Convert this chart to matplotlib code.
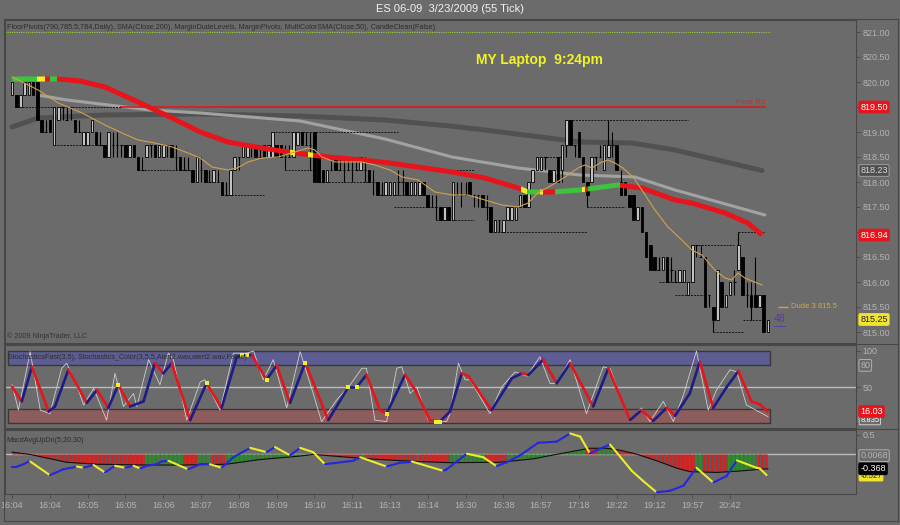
import numpy as np
import matplotlib.pyplot as plt
from matplotlib.patches import Rectangle
from matplotlib.lines import Line2D

plt.rcParams['font.family'] = ['Liberation Sans', 'DejaVu Sans']
plt.rcParams['hatch.linewidth'] = 0.9

# ---- price bars, in ticks above 815.00 (1 tick = 0.25)
BASE = 815.0
TICK = 0.25
opens = [19, 19, 18, 19, 19, 20, 20, 17, 16, 17,
         15, 17, 18, 17, 18, 17, 16, 15, 15, 16,
         16, 15, 15, 14, 15, 15, 15, 15, 14, 15,
         14, 13, 14, 15, 15, 14, 14, 15, 15, 14,
         14, 13, 13, 13, 12, 13, 13, 12, 12, 12,
         12, 11, 11, 13, 14, 14, 14, 15, 15, 14,
         15, 14, 14, 15, 15, 14, 14, 14, 15, 16,
         15, 15, 16, 14, 13, 12, 13, 14, 13, 13,
         13, 13, 13, 13, 13, 13, 12, 12, 11, 11,
         11, 11, 12, 12, 12, 11, 11, 11, 12, 11,
         10, 10, 10, 9, 10, 9, 11, 11, 11, 12,
         11, 11, 11, 10, 10, 8, 9, 8, 9, 9,
         9, 10, 11, 10, 12, 13, 13, 14, 13, 12,
         14, 13, 15, 17, 15, 16, 14, 12, 12, 14,
         14, 13, 14, 15, 15, 12, 12, 11, 11, 9,
         10, 8, 7, 6, 5, 5, 6, 5, 4, 4,
         4, 3, 4, 7, 6, 6, 3, 2, 1, 4,
         2, 3, 4, 5, 6, 3, 3, 3, 2, 3,
         0]
closes = [20, 18, 19, 20, 20, 19, 17, 16, 16, 16,
          18, 18, 18, 17, 18, 16, 16, 16, 16, 17,
          15, 15, 14, 16, 15, 15, 15, 14, 15, 14,
          13, 13, 15, 15, 14, 15, 15, 15, 14, 14,
          13, 13, 13, 12, 14, 13, 12, 12, 13, 12,
          11, 11, 13, 14, 14, 15, 15, 15, 14, 14,
          14, 15, 16, 14, 14, 14, 14, 16, 16, 15,
          15, 15, 12, 12, 12, 13, 13, 13, 13, 13,
          13, 13, 13, 14, 13, 12, 12, 11, 11, 12,
          12, 12, 12, 12, 11, 12, 12, 12, 11, 10,
          10, 10, 9, 10, 9, 12, 11, 11, 11, 11,
          11, 11, 10, 10, 8, 9, 9, 9, 10, 10,
          10, 11, 10, 12, 13, 14, 14, 14, 12, 13,
          12, 15, 17, 15, 15, 14, 12, 11, 14, 14,
          14, 15, 15, 15, 13, 11, 11, 10, 9, 10,
          8, 6, 5, 5, 5, 6, 4, 5, 4, 5,
          5, 4, 7, 7, 6, 2, 3, 1, 5, 2,
          3, 4, 4, 7, 3, 3, 2, 2, 3, 0,
          1]
highs = [20, 19, 19, 20, 20, 20, 20, 17, 17, 17,
         18, 18, 18, 18, 18, 17, 17, 16, 16, 17,
         16, 16, 15, 16, 16, 16, 15, 15, 15, 15,
         14, 14, 15, 15, 15, 15, 15, 15, 15, 15,
         14, 14, 14, 13, 14, 14, 13, 13, 13, 13,
         12, 12, 13, 14, 14, 15, 15, 15, 15, 15,
         15, 15, 16, 15, 15, 15, 15, 16, 16, 16,
         16, 16, 16, 14, 13, 13, 14, 14, 14, 14,
         14, 14, 14, 14, 14, 13, 13, 12, 12, 12,
         12, 12, 13, 13, 12, 12, 12, 12, 12, 11,
         11, 11, 10, 10, 10, 12, 12, 12, 12, 12,
         11, 11, 11, 11, 10, 9, 9, 9, 10, 10,
         10, 11, 11, 12, 13, 14, 14, 14, 13, 13,
         14, 15, 17, 17, 15, 16, 14, 12, 14, 14,
         15, 15, 17, 16, 15, 13, 12, 11, 11, 10,
         10, 8, 7, 6, 6, 6, 6, 6, 5, 5,
         5, 4, 7, 7, 7, 6, 3, 2, 5, 4,
         3, 4, 5, 8, 6, 4, 4, 6, 3, 3,
         1]
lows = [19, 18, 18, 19, 19, 19, 17, 16, 16, 16,
        15, 17, 17, 17, 17, 16, 16, 15, 15, 16,
        15, 15, 14, 14, 14, 14, 14, 14, 14, 14,
        13, 13, 14, 14, 14, 14, 14, 14, 14, 13,
        13, 13, 13, 12, 12, 12, 12, 12, 12, 12,
        11, 11, 11, 13, 13, 14, 14, 14, 14, 14,
        14, 14, 14, 14, 14, 13, 14, 14, 15, 15,
        15, 13, 12, 12, 12, 12, 13, 13, 13, 12,
        13, 12, 13, 13, 12, 12, 11, 11, 11, 11,
        11, 11, 11, 11, 11, 11, 11, 11, 11, 10,
        10, 9, 9, 9, 9, 9, 11, 10, 11, 11,
        10, 10, 10, 9, 8, 8, 8, 8, 9, 9,
        9, 10, 10, 10, 12, 13, 13, 13, 12, 12,
        12, 12, 14, 15, 14, 14, 12, 10, 12, 13,
        14, 13, 14, 14, 13, 11, 11, 10, 9, 9,
        8, 6, 5, 5, 5, 5, 4, 4, 4, 4,
        4, 3, 4, 6, 6, 2, 2, 0, 1, 2,
        2, 3, 3, 5, 3, 2, 1, 2, 2, 0,
        0]

# MarginDudeLevels: level (ticks), first bar, last bar
dude_level = [18, 15, 13, 16, 13, 11, 12, 11, 10, 9, 13, 8, 14, 17, 10, 4, 3, 7, 0, 8, 1]
dude_start = [1, 10, 30, 62, 65, 50, 73, 87, 91, 101, 105, 114, 125, 132, 137, 154, 158, 162, 167, 173, 174]
dude_end = [26, 22, 42, 92, 73, 60, 87, 98, 101, 110, 110, 137, 131, 161, 146, 162, 165, 172, 174, 179, 179]

# moving averages (bar index, price)
sma200_x = [0, 6.2, 22.1, 44.8, 68.6, 88.8, 104.3, 112.6, 135.2, 147.6, 157.9, 178.6]
sma200_y = [819.10, 819.28, 819.34, 819.36, 819.32, 819.24, 819.12, 819.04, 818.80, 818.78, 818.64, 818.23]
pivma_x = [6.0, 13.1, 32.9, 44.8, 68.6, 88.8, 104.8, 120.5, 135.2, 148.3, 157.9, 179.3]
pivma_y = [819.74, 819.64, 819.44, 819.38, 819.22, 818.86, 818.50, 818.28, 818.14, 818.10, 817.84, 817.34]
sma50_x = [0, 5.5, 11.0, 16.2, 22.1, 30.0, 38.1, 44.8, 51.4, 59.5, 67.4, 75.2, 83.3, 90.0,
           104.8, 112.6, 120.5, 122.9, 128.6, 135.2, 144.3, 150.0, 157.9, 161.9, 169.8,
           175.2, 178.1, 178.6]
sma50_y = [820.06, 820.06, 820.06, 820.02, 819.90, 819.60, 819.28, 819.00, 818.80, 818.68,
           818.58, 818.50, 818.44, 818.38, 818.20, 818.08, 817.88, 817.80, 817.80, 817.84,
           817.94, 817.88, 817.64, 817.58, 817.38, 817.18, 816.98, 816.94]
sma50_runs = [(-1, 6.0, 'g'), (6.0, 7.9, 'y'), (7.9, 9.0, 'r'), (9.0, 10.7, 'g'),
              (10.7, 66.2, 'r'), (66.2, 67.4, 'y'), (67.4, 70.5, 'r'), (70.5, 71.7, 'y'),
              (71.7, 121.2, 'r'), (121.2, 122.6, 'y'), (122.6, 125.7, 'g'), (125.7, 126.4, 'y'),
              (126.4, 129.3, 'r'), (129.3, 135.7, 'g'), (135.7, 136.4, 'y'), (136.4, 137.1, 'r'),
              (137.1, 144.8, 'g'), (144.8, 180, 'r')]
fast_x = [0, 6.2, 11.0, 16.7, 22.1, 26.2, 30.0, 34.0, 38.1, 41.9, 44.8, 47.6, 51.4, 53.6,
          56.2, 59.5, 63.3, 67.4, 70.5, 72.1, 73.8, 76.9, 83.3, 86.4, 90.0, 92.9, 96.7,
          100.7, 104.8, 108.6, 112.6, 116.7, 120.5, 122.9, 125.2, 128.6, 131.7, 134.8,
          136.4, 138.1, 140.0, 141.9, 143.6, 145.5, 147.9, 150.0, 153.1, 156.2, 159.5,
          161.9, 164.3, 167.4, 169.8, 171.4, 172.9, 174.5, 178.6]
fast_y = [820.10, 819.84, 819.58, 819.38, 819.14, 818.98, 818.84, 818.78, 818.70, 818.58,
          818.48, 818.30, 818.24, 818.28, 818.40, 818.48, 818.50, 818.60, 818.68, 818.64,
          818.50, 818.40, 818.40, 818.34, 818.24, 818.10, 818.04, 817.80, 817.74, 817.74,
          817.64, 817.54, 817.50, 817.58, 817.78, 817.94, 818.10, 818.28, 818.34, 818.28,
          818.38, 818.44, 818.38, 818.28, 818.10, 817.84, 817.44, 817.10, 816.84, 816.64,
          816.54, 816.24, 816.08, 816.04, 816.18, 816.08, 815.94]

# stochastics (bar index, value)
stoch_d_x = [0, 2.3, 4.7, 8.7, 10.2, 13.4, 17.8, 20.2, 22.9, 25.3, 28.1, 31.3, 34.0, 36.0,
             38.0, 42.4, 46.3, 49.9, 53.5, 54.7, 57.1, 60.6, 63.0, 66.2, 69.8, 75.3, 80.1,
             82.1, 84.4, 87.6, 89.2, 93.6, 96.0, 99.5, 101.9, 104.3, 107.1, 108.7, 114.2,
             119.0, 121.4, 123.0, 126.5, 129.7, 132.9, 138.4, 142.0, 147.2, 149.9, 152.7,
             155.9, 157.9, 161.4, 163.8, 167.0, 170.2, 173.0, 176.1, 178.1, 180]
stoch_d_y = [50, 30, 78, 16, 23, 74, 28, 46, 21, 53, 23, 30, 83, 69,
             83, 4, 55, 21, 92, 94, 94, 60, 80, 28, 84, 4, 50,
             50, 67, 18, 13, 67, 46, 4, 2, 16, 69, 65, 18,
             62, 69, 67, 88, 55, 83, 23, 76, 4, 18, 3,
             21, 10, 41, 85, 21, 50, 72, 30, 26, 16.03]
stoch_k_x = [0, 1.5, 4.3, 6.7, 9.0, 11.8, 13.0, 15.8, 17.0, 19.4, 22.5, 24.5, 26.5, 28.9,
             29.7, 32.5, 35.2, 37.2, 38.4, 41.6, 44.8, 45.9, 49.5, 52.7, 55.9, 57.5, 59.8,
             62.2, 65.4, 68.6, 71.7, 73.7, 77.3, 80.5, 83.3, 84.4, 86.4, 89.2, 91.6, 92.8,
             94.8, 96.4, 99.1, 103.5, 104.3, 106.3, 107.9, 109.1, 113.8, 116.6, 119.8,
             122.6, 125.7, 128.1, 129.7, 132.9, 136.8, 140.8, 142.4, 147.2, 149.9, 151.9,
             155.1, 157.5, 159.9, 163.0, 165.8, 167.8, 171.0, 172.6, 174.9, 180]
stoch_k_y = [53, 18, 99, 18, 13, 76, 83, 46, 25, 48, 4, 69, 23, 41,
             23, 88, 53, 97, 88, 4, 57, 60, 18, 97, 97, 100, 60,
             88, 21, 99, 41, 2, 32, 53, 76, 76, 4, 2, 76, 78,
             41, 50, 4, 2, 13, 83, 60, 60, 13, 50, 71,
             65, 92, 55, 55, 88, 13, 78, 76, 2, 21, 2,
             30, 2, 39, 100, 18, 46, 74, 71, 25, 9]
stoch_dot_x = [25.3, 46.3, 54.7, 55.9, 60.6, 69.8, 80.1, 82.1, 89.2, 101.0, 101.9]
stoch_dot_y = [53, 55, 94, 94, 60, 84, 50, 50, 13, 2, 2]

# MacdAvgUpDn (bar index, value)
avg_x = [0, 4.3, 13.0, 20.2, 32.0, 40.8, 51.0, 59.0, 68.6, 71.7, 76.5, 84.4, 96.4, 104.3,
         116.2, 124.2, 130.5, 137.6, 141.6, 144.8, 148.7, 153.5, 158.3, 161.4, 167.8,
         172.6, 178.1, 180]
avg_y = [0.06, 0.0, -0.20, -0.25, -0.27, -0.27, -0.25, -0.13, -0.04, 0.0, -0.04, -0.11,
         -0.18, -0.21, -0.20, -0.11, 0.02, 0.16, 0.16, 0.11, 0.01, -0.16, -0.35, -0.44,
         -0.46, -0.43, -0.38, -0.368]
macd_x = [0, 1.1, 2.7, 3.9, 4.3, 9.0, 12.2, 15.4, 17.0, 19.4, 22.1, 24.5, 26.9, 28.9, 30.5,
          32.1, 34.4, 35.6, 37.2, 41.9, 44.8, 47.1, 49.9, 52.7, 56.7, 60.6, 62.6, 66.2,
          68.6, 71.7, 74.5, 81.3, 82.9, 89.2, 92.4, 94.4, 95.2, 102.7, 103.5, 108.3,
          112.2, 115.4, 117.8, 121.0, 125.3, 129.7, 132.9, 135.3, 137.6, 142.4, 147.6,
          150.3, 153.5, 156.7, 159.9, 163.0, 167.0, 170.2, 172.6, 177.3, 178.1, 179.7]
macd_y = [-0.31, -0.31, -0.25, -0.18, -0.18, -0.53, -0.38, -0.31, -0.34, -0.27, -0.46,
          -0.29, -0.34, -0.29, -0.36, -0.29, -0.25, -0.18, -0.16, -0.38, -0.25, -0.25,
          -0.34, -0.07, 0.17, 0.06, 0.19, -0.02, 0.17, 0.06, -0.25, -0.16, -0.07, -0.31,
          -0.21, -0.20, -0.18, -0.42, -0.38, 0.02, -0.07, -0.30, -0.20, -0.02, 0.30, 0.33,
          0.54, 0.46, 0.03, 0.26, -0.42, -0.68, -0.97, -0.93, -0.80, -0.34, -0.72, -0.55,
          -0.15, -0.34, -0.36, -0.527]
hist_runs = [(-0.5, 31.7, 'r'), (31.7, 40.8, 'g'), (40.8, 44.0, 'r'), (44.0, 47.5, 'g'),
             (47.5, 50.7, 'r'), (50.7, 71.7, 'g'), (71.7, 83.3, 'r'), (83.3, 84.4, 'g'),
             (84.4, 96.4, 'r'), (96.4, 97.0, 'g'), (97.0, 104.3, 'r'), (104.3, 112.6, 'g'),
             (112.6, 118.2, 'r'), (118.2, 136.8, 'g'), (136.8, 139.2, 'r'), (139.2, 143.2, 'g'),
             (143.2, 162.6, 'r'), (162.6, 164.6, 'g'), (164.6, 170.6, 'r'), (170.6, 177.7, 'g'),
             (177.7, 180.5, 'r')]

time_labels = ['16:04', '16:04', '16:05', '16:05', '16:06', '16:07', '16:08', '16:09',
               '16:10', '16:11', '16:13', '16:14', '16:30', '16:38', '16:57', '17:18',
               '18:22', '19:12', '19:57', '20:42']
price_ticks = [815.0, 815.5, 816.0, 816.5, 817.0, 817.5, 818.0, 818.5, 819.0, 819.5, 820.0, 820.5, 821.0]
# labels hidden behind the live-value flags on the right axis
hidden_ticks = [817.0, 819.5]

BG = '#6b6b6b'
EDGE = '#474747'
TXT = '#b4b4b4'
RED = '#e8141c'
COLORS = {'r': RED, 'g': '#3cc43c', 'y': '#f0f028'}
W, H = 900, 525


def frac(x0, y0, x1, y1):
    return [x0 / W, 1 - y1 / H, (x1 - x0) / W, (y1 - y0) / H]


def style(ax):
    ax.set_facecolor(BG)
    for s in ax.spines.values():
        s.set_color(EDGE)
        s.set_linewidth(0.8)
    ax.yaxis.tick_right()
    ax.tick_params(axis='y', colors=EDGE, labelcolor=TXT, labelsize=6.5, length=3, width=0.6, pad=1.5)
    ax.tick_params(axis='x', bottom=False, labelbottom=False)


def clip_x(artist, ax, x0, x1):
    artist.set_clip_path(Rectangle((x0, 0), x1 - x0, 1, transform=ax.get_xaxis_transform()))


def flag(ax, y, txt, fc, tc, ec=None, z=6, size=6.5):
    ax.text(1.005, y, txt, transform=ax.get_yaxis_transform(), ha='left', va='center',
            fontsize=size, color=tc, zorder=z,
            bbox=dict(boxstyle='round,pad=0.15', fc=fc, ec=ec if ec else fc, lw=0.7))


fig = plt.figure(figsize=(9, 5.25), dpi=100, facecolor=BG)
ax_p = fig.add_axes(frac(5, 20, 856, 343))
ax_s = fig.add_axes(frac(5, 345, 856, 428), sharex=ax_p)
ax_m = fig.add_axes(frac(5, 430, 856, 494), sharex=ax_p)
for a in (ax_p, ax_s, ax_m):
    style(a)

n = len(closes)
xs = np.arange(n)
o = BASE + TICK * np.array(opens)
c = BASE + TICK * np.array(closes)
hi = BASE + TICK * np.array(highs)
lo = BASE + TICK * np.array(lows)

# ---------------- price panel
ax_p.plot(sma200_x, sma200_y, color='#515151', lw=3.6, solid_capstyle='round', zorder=1)
ax_p.plot(pivma_x, pivma_y, color='#a2a2a2', lw=2.2, solid_capstyle='round', zorder=1)
ax_p.hlines(821.0, -1.7, 180.5, colors='#9ccc3c', linestyles=(0, (1, 1)), lw=0.8, zorder=1)
ax_p.hlines(819.5, 25.7, 179.5, colors='#d81e1e', lw=1.2, zorder=1)
ax_p.text(179.3, 819.52, 'Floor R3', color='#e02424', fontsize=5.5, ha='right', va='bottom')

for lv, s0, s1 in zip(dude_level, dude_start, dude_end):
    ax_p.hlines(BASE + TICK * lv, s0, s1, colors='#141414', linestyles=(0, (2, 1.2)), lw=0.7, zorder=2)

ax_p.vlines(xs, lo, hi, colors='black', lw=0.8, zorder=3)
up = c > o
dn = c < o
eq = c == o
ax_p.bar(xs[up], (c - o)[up], bottom=o[up], width=0.62, color='#c2c2c2', edgecolor='black', lw=0.6, zorder=4)
ax_p.bar(xs[dn], (o - c)[dn], bottom=c[dn], width=0.62, color='black', edgecolor='black', lw=0.6, zorder=4)
ax_p.hlines(c[eq], xs[eq] - 0.3, xs[eq] + 0.3, colors='black', lw=0.8, zorder=4)

for x0, x1, k in sma50_runs:
    ln, = ax_p.plot(sma50_x, sma50_y, color=COLORS[k], lw=3.6, solid_capstyle='butt', zorder=5)
    clip_x(ln, ax_p, x0, x1)
ax_p.plot(fast_x, fast_y, color='#d2a050', lw=0.8, zorder=6)

ax_p.hlines(815.5, 182.5, 184.9, colors='#d0a040', lw=1.0)
ax_p.text(185.6, 815.5, 'Dude 3 815.5', color='#d2a84a', fontsize=5.5, va='center')
ax_p.text(181.4, 815.27, '48', color='#5a3c9c', fontsize=7.5, va='center')
ax_p.plot([181.4, 184.0], [815.12, 815.12], color='#5a3c9c', lw=0.7)

ax_p.text(0.628, 0.876, 'MY Laptop  9:24pm', transform=ax_p.transAxes, color='#f2f224',
          fontsize=10, fontweight='bold', ha='center', va='center')
ax_p.text(0.002, 0.978, 'FloorPivots(790,785.5,784,Daily), SMA(Close,200), MarginDudeLevels, '
          'MarginPivots, MultiColorSMA(Close,50), CandleClean(False)',
          transform=ax_p.transAxes, color='#2c2c2c', fontsize=5.2, va='center')
ax_p.text(0.002, 0.02, '\u00a9 2009 NinjaTrader, LLC', transform=ax_p.transAxes,
          color='#333333', fontsize=5.2, va='center')

ax_p.set_ylim(814.78, 821.24)
ax_p.set_yticks(price_ticks)
ax_p.set_yticklabels(['' if v in hidden_ticks else '%.2f' % v for v in price_ticks])
flag(ax_p, 819.50, '819.50', RED, 'white')
flag(ax_p, 818.23, '818.23', '#4f4f4f', '#d8d8d8', ec='#a0a0a0')
flag(ax_p, 816.94, '816.94', RED, 'white')
flag(ax_p, 815.25, '815.25', '#f0e42c', '#202020')

# ---------------- stochastics panel
ax_s.add_patch(Rectangle((-0.95, 80), n + 0.45, 20, fc='#5d5d93', ec='#383838', lw=1.0, zorder=1))
ax_s.add_patch(Rectangle((-0.95, 0), n + 0.45, 20, fc='#8d5d5d', ec='#383838', lw=1.0, zorder=1))
ax_s.axhline(50, color='#bcbcbc', lw=1.0, zorder=1)
ax_s.plot(stoch_k_x, stoch_k_y, color='#cfcfcf', lw=0.6, zorder=2)
for i in range(len(stoch_d_x) - 1):
    col = '#1c1c8a' if stoch_d_y[i + 1] >= stoch_d_y[i] else RED
    ax_s.plot(stoch_d_x[i:i + 2], stoch_d_y[i:i + 2], color=col, lw=1.9,
              solid_capstyle='round', zorder=3)
ax_s.plot(stoch_dot_x, stoch_dot_y, 's', color='#f0f028', ms=2.2, mew=0, zorder=4)
ax_s.text(0.0035, 0.855, 'StochasticsFast(3,5), Stochastics_Color(3,5,5,Alert2.wav,alert2.wav,False)',
          transform=ax_s.transAxes, color='#2c2c2c', fontsize=5.2, va='center', zorder=5)
ax_s.set_ylim(-6.9, 108.3)
ax_s.set_yticks([0, 50, 100])
ax_s.set_yticklabels(['', '50', '100'])
flag(ax_s, 80, '80', BG, TXT, ec='#b0b0b0', z=5)
flag(ax_s, 4, '8.835', BG, 'white', ec='#d0d0d0', z=5, size=5.5)
flag(ax_s, 16.03, '16.03', RED, 'white', z=6)

# ---------------- MACD panel
ax_m.axhline(0, color='#bcbcbc', lw=1.0, zorder=1)
for x0, x1, k in hist_runs:
    poly = ax_m.fill_between(avg_x, 0, avg_y, facecolor='#d82020' if k == 'r' else '#2a8c2a',
                             edgecolor='#5c5c5c', hatch='||||', lw=0, zorder=2)
    clip_x(poly, ax_m, x0, x1)
ax_m.plot(avg_x, avg_y, color='#101010', lw=0.8, zorder=3)
for i in range(len(macd_x) - 1):
    col = '#2626dc' if macd_y[i + 1] >= macd_y[i] else '#ecec2a'
    ax_m.plot(macd_x[i:i + 2], macd_y[i:i + 2], color=col, lw=1.5,
              solid_capstyle='round', zorder=4)
ax_m.text(0.002, 0.84, 'MacdAvgUpDn(5,20,30)', transform=ax_m.transAxes,
          color='#2c2c2c', fontsize=5.2, va='center')
ax_m.set_ylim(-1.013, 0.628)
ax_m.set_yticks([0.5])
ax_m.set_yticklabels(['0.5'])
flag(ax_m, -0.03, '0.0068', BG, TXT, ec='#b0b0b0', z=5)
flag(ax_m, -0.56, '-0.527', '#f0e42c', '#202020', z=5, size=5.5)
flag(ax_m, -0.368, '-0.368', 'black', 'white', z=6)

ax_m.set_xticks(np.arange(0, 9 * len(time_labels), 9))
ax_m.set_xticklabels(time_labels)
ax_m.tick_params(axis='x', bottom=True, labelbottom=True, colors=EDGE, labelcolor=TXT,
                 labelsize=6.5, length=3, width=0.6, pad=2)
ax_p.set_xlim(-1.7, 201)

# title and frame
fig.text(0.5, 1 - 9 / H, 'ES 06-09  3/23/2009 (55 Tick)', ha='center', va='center',
         color='#f2f2f2', fontsize=8)
for yy in (19, 344, 429):
    fig.add_artist(Line2D([4 / W, 898 / W], [1 - yy / H, 1 - yy / H], color=EDGE, lw=0.8))
fig.add_artist(Rectangle((4 / W, 1 - 521 / H), 894 / W, 502 / H, transform=fig.transFigure,
                         fill=False, ec=EDGE, lw=0.8))

fig.savefig('out.png', dpi=100, facecolor=BG)
